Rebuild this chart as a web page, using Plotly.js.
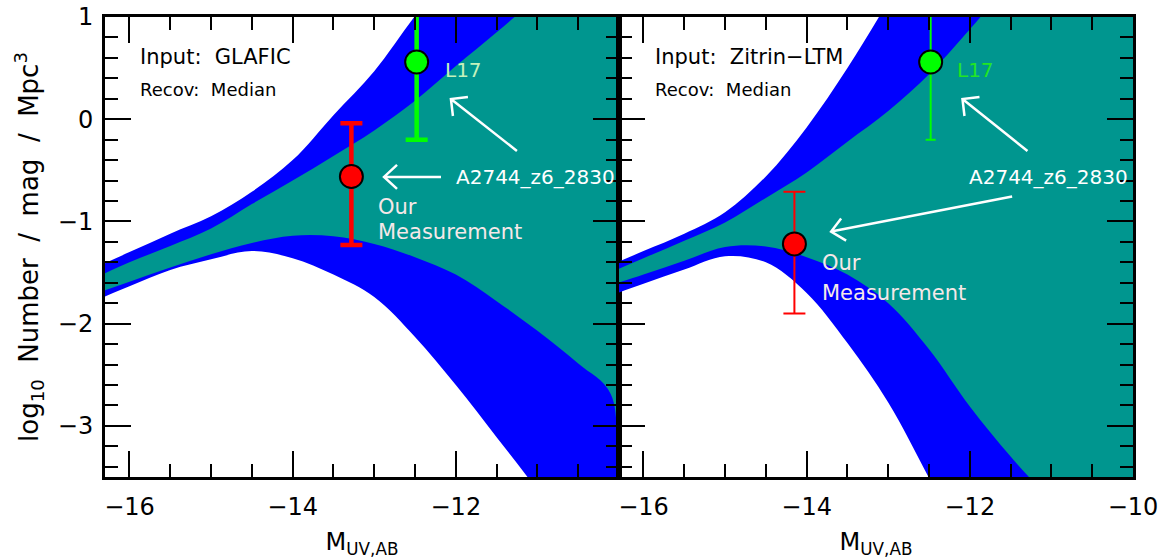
<!DOCTYPE html>
<html>
<head>
<meta charset="utf-8">
<script src="https://cdn.plot.ly/plotly-3.0.1.min.js"></script>
<style>html,body{margin:0;padding:0;background:#fff;}#chart{width:1167px;height:560px;}</style>
</head>
<body>
<div id="chart"></div>
<script>
// ---------- data ----------
const magGrid = [-16.5,-16,-15.5,-15,-14.5,-14,-13.5,-13,-12.5,-12,-11.5,-11,-10.5,-10,-9.5];
const magGridEdge = [-16.5,-16,-15.5,-15,-14.5,-14,-13.5,-13,-12.5,-12,-11.5,-11,-10.5,-10.1,-10.0,-9.5];

// Input: GLAFIC  (left panel)
const glaficOuterUpper = [-1.48,-1.30,-1.12,-0.95,-0.71,-0.40,0.04,0.47,1.01,1.5,2.0,2.5,3.0,3.5,4.0];
const glaficOuterLower = [-1.80,-1.635,-1.475,-1.37,-1.29,-1.36,-1.52,-1.74,-2.13,-2.60,-3.11,-3.63,-4.2,-4.8,-5.4];
const glaficInnerUpper = [-1.58,-1.40,-1.24,-1.07,-0.83,-0.60,-0.36,-0.11,0.18,0.52,0.85,1.2,1.6,2.0,2.4];
const glaficInnerLower = [-1.73,-1.59,-1.45,-1.32,-1.21,-1.14,-1.145,-1.22,-1.35,-1.52,-1.78,-2.07,-2.39,-2.69,-3.8,-5.0];

// Input: Zitrin-LTM  (right panel)
const zitrinOuterUpper = [-1.46,-1.29,-1.12,-0.91,-0.56,-0.08,0.50,1.15,1.8,2.4,3.0,3.6,4.2,4.8,5.4];
const zitrinOuterLower = [-1.75,-1.61,-1.47,-1.34,-1.40,-1.70,-2.19,-2.77,-3.51,-4.3,-5.1,-5.9,-6.7,-7.5,-8.3];
const zitrinInnerUpper = [-1.53,-1.36,-1.19,-1.01,-0.77,-0.52,-0.22,0.08,0.44,0.88,1.35,1.85,2.4,3.0,3.6];
const zitrinInnerLower = [-1.65,-1.52,-1.385,-1.25,-1.245,-1.35,-1.52,-1.80,-2.25,-2.81,-3.30,-3.75,-4.3,-4.9,-5.5];

// measurements
const l17Mag = [-12.48];
const l17Phi = [0.56];
const l17ErrUp = [0.76];
const l17ErrDown = [0.76];

const ourMagGlafic = [-13.28];
const ourPhiGlafic = [-0.56];
const ourErrUpGlafic = [0.52];
const ourErrDownGlafic = [0.67];

const ourMagZitrin = [-14.15];
const ourPhiZitrin = [-1.22];
const ourErrUpZitrin = [0.51];
const ourErrDownZitrin = [0.68];

const xTickValsLeft = [-16,-14,-12];
const xTickTextLeft = ['\u221216','\u221214','\u221212'];
const xTickValsRight = [-16,-14,-12,-10];
const xTickTextRight = ['\u221216','\u221214','\u221212','\u221210'];
const yTickVals = [-3,-2,-1,0,1];
const yTickText = ['\u22123','\u22122','\u22121','0','1'];

// ---------- styling ----------
const FONT = 'DejaVu Sans, Liberation Sans, sans-serif';
const BLUE = '#0000ff';
const TEAL = '#00968f';

function band(x1, lower, x2, upper, color, xa, ya) {
  return [
    {x: x1, y: lower, xaxis: xa, yaxis: ya, mode: 'lines', line: {width: 0, shape: 'spline', smoothing: 1, color: color},
     hoverinfo: 'skip', showlegend: false},
    {x: x2, y: upper, xaxis: xa, yaxis: ya, mode: 'lines', fill: 'tonexty', fillcolor: color,
     line: {width: 0, shape: 'spline', smoothing: 1, color: color}, hoverinfo: 'skip', showlegend: false}
  ];
}

function point(x, y, up, down, color, thick, capw, xa, ya) {
  return {x: x, y: y, xaxis: xa, yaxis: ya, mode: 'markers', type: 'scatter', showlegend: false,
    marker: {size: 23, color: color, line: {color: 'black', width: 2}},
    error_y: {type: 'data', symmetric: false, array: up, arrayminus: down, color: color, thickness: thick, width: capw}};
}

const traces = []
  .concat(band(magGrid, glaficOuterLower, magGrid, glaficOuterUpper, BLUE, 'x', 'y'))
  .concat(band(magGridEdge, glaficInnerLower, magGrid, glaficInnerUpper, TEAL, 'x', 'y'))
  .concat([point(ourMagGlafic, ourPhiGlafic, ourErrUpGlafic, ourErrDownGlafic, '#ff0000', 4.5, 11, 'x', 'y'),
           point(l17Mag, l17Phi, l17ErrUp, l17ErrDown, '#00ff00', 4.5, 11, 'x', 'y')])
  .concat(band(magGrid, zitrinOuterLower, magGrid, zitrinOuterUpper, BLUE, 'x2', 'y2'))
  .concat(band(magGrid, zitrinInnerLower, magGrid, zitrinInnerUpper, TEAL, 'x2', 'y2'))
  .concat([point(ourMagZitrin, ourPhiZitrin, ourErrUpZitrin, ourErrDownZitrin, '#ff0000', 2, 11, 'x2', 'y2'),
           point(l17Mag, l17Phi, l17ErrUp, l17ErrDown, '#00ff00', 2, 5, 'x2', 'y2')]);

function xAxis(domain, anchor, tickvals, ticktext) {
  return {
    domain: domain, anchor: anchor, range: [-16.3, -10], autorange: false,
    tickmode: 'array', tickvals: tickvals, ticktext: ticktext,
    ticks: 'inside', ticklen: 26, tickwidth: 2, tickcolor: 'black',
    minor: {ticks: 'inside', ticklen: 13, tickwidth: 2, tickcolor: 'black', tickmode: 'linear', tick0: -16, dtick: 0.5, showgrid: false},
    showline: true, linewidth: 3, linecolor: 'black', mirror: 'ticks',
    showgrid: false, zeroline: false,
    tickfont: {family: FONT, size: 24, color: 'black'}, ticklabelstandoff: 6,
    title: {text: 'M<sub>UV,AB</sub>', font: {family: FONT, size: 24, color: 'black'}, standoff: 14}
  };
}
function yAxis(anchor, showLabels) {
  return {
    domain: [0, 1], anchor: anchor, range: [-3.5, 1], autorange: false,
    tickmode: 'array', tickvals: yTickVals, ticktext: yTickText, showticklabels: showLabels,
    ticks: 'inside', ticklen: 26, tickwidth: 2, tickcolor: 'black',
    minor: {ticks: 'inside', ticklen: 13, tickwidth: 2, tickcolor: 'black', tickmode: 'linear', tick0: 0, dtick: 0.2, showgrid: false},
    showline: true, linewidth: 3, linecolor: 'black', mirror: 'ticks',
    showgrid: false, zeroline: false,
    tickfont: {family: FONT, size: 24, color: 'black'}, ticklabelstandoff: 4
  };
}

const layout = {
  width: 1167, height: 560,
  margin: {l: 105, r: 34, t: 17, b: 83},
  paper_bgcolor: 'white', plot_bgcolor: 'white',
  showlegend: false,
  xaxis: xAxis([0, 0.5], 'y', xTickValsLeft, xTickTextLeft),
  xaxis2: xAxis([0.5, 1], 'y2', xTickValsRight, xTickTextRight),
  yaxis: Object.assign(yAxis('x', true), {
    title: {text: 'log<sub>10</sub>\u00a0\u00a0Number\u00a0\u00a0/\u00a0\u00a0mag\u00a0\u00a0/\u00a0\u00a0Mpc<sup>3</sup>',
            font: {family: FONT, size: 26, color: 'black'}, standoff: 12}}),
  yaxis2: yAxis('x2', false),
  annotations: [],
  shapes: []
};

function txt(xref, yref, x, y, text, size, color) {
  return {xref: xref, yref: yref, x: x, y: y, text: text, showarrow: false, xanchor: 'left', yanchor: 'middle',
          font: {family: FONT, size: size, color: color}};
}
// open-headed arrow: tip anchored at data (x, y); tail and arm ends given as screen-pixel offsets (dx, dy down)
function arrow(xref, yref, x, y, tail, arm1, arm2) {
  const p = (o) => o[0] + ',' + (-o[1]);
  return {type: 'path', xref: xref, yref: yref, xsizemode: 'pixel', ysizemode: 'pixel', xanchor: x, yanchor: y,
          path: 'M' + p(tail) + ' L0,0 M' + p(arm1) + ' L0,0 L' + p(arm2),
          line: {color: 'white', width: 2.5}, layer: 'above'};
}

const A = layout.annotations;
// left panel labels
A.push(txt('x', 'y', -15.90, 0.609, 'Input:\u00a0\u00a0GLAFIC', 21, 'black'));
A.push(txt('x', 'y', -15.90, 0.286, 'Recov:\u00a0\u00a0Median', 18, 'black'));
A.push(txt('x', 'y', -12.16, 0.482, 'L17', 20, '#c4f2bc'));
A.push(txt('x', 'y', -12.02, -0.564, 'A2744_z6_2830', 20, 'white'));
A.push(txt('x', 'y', -12.98, -0.859, 'Our', 21, '#f6e8e8'));
A.push(txt('x', 'y', -12.98, -1.104, 'Measurement', 21, '#f6e8e8'));
// right panel labels
A.push(txt('x2', 'y2', -15.88, 0.609, 'Input:\u00a0\u00a0Zitrin\u2212LTM', 21, 'black'));
A.push(txt('x2', 'y2', -15.88, 0.286, 'Recov:\u00a0\u00a0Median', 18, 'black'));
A.push(txt('x2', 'y2', -12.18, 0.482, 'L17', 20, '#22e622'));
A.push(txt('x2', 'y2', -12.04, -0.564, 'A2744_z6_2830', 20, 'white'));
A.push(txt('x2', 'y2', -13.84, -1.405, 'Our', 21, '#f6e8e8'));
A.push(txt('x2', 'y2', -13.84, -1.698, 'Measurement', 21, '#f6e8e8'));

const S = layout.shapes;
S.push(arrow('x', 'y', -12.88, -0.564, [57, 0], [13, -12], [13, 12]));
S.push(arrow('x', 'y', -12.06, 0.198, [66, 52], [17, -2], [2, 17]));
S.push(arrow('x2', 'y2', -12.09, 0.198, [65, 52], [17, -2], [2, 17]));
S.push(arrow('x2', 'y2', -13.70, -1.099, [181, -35], [10, -13], [15, 9]));

Plotly.newPlot('chart', traces, layout, {staticPlot: true, displayModeBar: false});
</script>
</body>
</html>
